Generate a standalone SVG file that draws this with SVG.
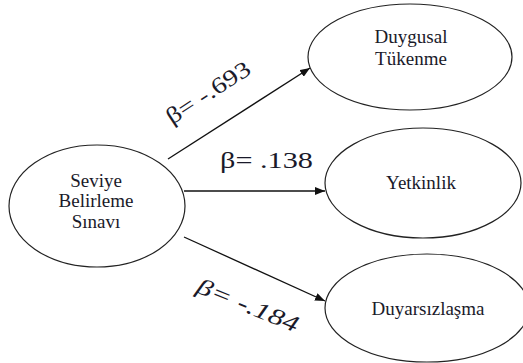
<svg xmlns="http://www.w3.org/2000/svg" width="523" height="363" viewBox="0 0 523 363">
<style>
.node ellipse{fill:#fff;stroke:#222;stroke-width:1.2}
.lbl{font-family:'Liberation Serif','DejaVu Serif',serif;font-size:19px;fill:#1a1a2a;text-anchor:middle}
.beta{font-family:'Liberation Serif','DejaVu Serif',serif;font-size:23px;fill:#1a1a2a}
.edge{stroke:#111;stroke-width:1.3;fill:none;marker-end:url(#ah)}
</style>
<defs>
<marker id="ah" viewBox="0 0 10 8" refX="10" refY="4" markerWidth="10" markerHeight="8" markerUnits="userSpaceOnUse" orient="auto">
<path d="M0,0 L10,4 L0,8 Z" fill="#111"/>
</marker>
</defs>
<rect width="523" height="363" fill="#fff"/>
<g id="connectors">
<line class="edge" x1="168" y1="159" x2="310" y2="68"/>
<line class="edge" x1="184" y1="191" x2="325" y2="191"/>
<line class="edge" x1="184" y1="237" x2="325" y2="301"/>
</g>
<g id="node-svs" class="node">
<ellipse cx="97" cy="206" rx="88" ry="61"/>
<text class="lbl" x="96" y="187">Seviye</text>
<text class="lbl" x="96" y="207">Belirleme</text>
<text class="lbl" x="96" y="228">Sınavı</text>
</g>
<g id="node-dt" class="node">
<ellipse cx="410" cy="57" rx="102" ry="53"/>
<text class="lbl" x="411" y="43">Duygusal</text>
<text class="lbl" x="411" y="65">Tükenme</text>
</g>
<g id="node-yet" class="node">
<ellipse cx="423" cy="183" rx="98" ry="55"/>
<text class="lbl" x="421" y="189">Yetkinlik</text>
</g>
<g id="node-duy" class="node">
<ellipse cx="427" cy="308" rx="102" ry="54"/>
<text class="lbl" x="428" y="315">Duyarsızlaşma</text>
</g>
<g id="labels">
<text class="beta" transform="translate(172,125) rotate(-33)" textLength="96" lengthAdjust="spacingAndGlyphs">β= -.693</text>
<text class="beta" x="220" y="168" textLength="93" lengthAdjust="spacingAndGlyphs">β= .138</text>
<text class="beta" font-style="italic" transform="translate(195,292) rotate(22)" textLength="108" lengthAdjust="spacingAndGlyphs">β= -.184</text>
</g>
</svg>
